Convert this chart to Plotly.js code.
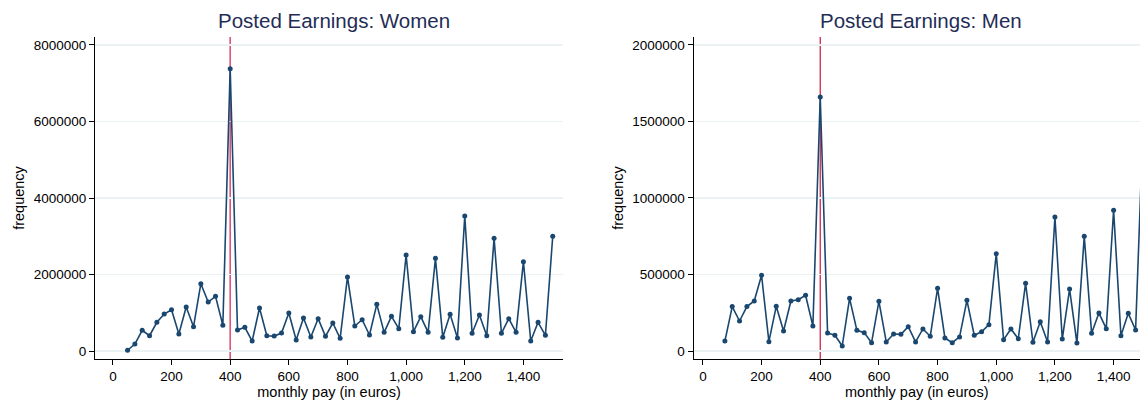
<!DOCTYPE html>
<html>
<head>
<meta charset="utf-8">
<script src="https://cdn.plot.ly/plotly-3.0.1.min.js"></script>
<style>
html,body{margin:0;padding:0;background:#fff;}
#chart{width:1140px;height:403px;}
</style>
</head>
<body>
<div id="chart"></div>
<script>
// ---- data ----
const womenPay = [50,75,100,125,150,175,200,225,250,275,300,325,350,375,400,425,450,475,500,525,550,575,600,625,650,675,700,725,750,775,800,825,850,875,900,925,950,975,1000,1025,1050,1075,1100,1125,1150,1175,1200,1225,1250,1275,1300,1325,1350,1375,1400,1425,1450,1475,1500];
const womenFreq = [20000,183000,541000,400000,750000,967000,1080000,444000,1150000,635000,1760000,1281000,1430000,672000,7380000,549000,620000,261000,1124000,400000,390000,470000,993000,288000,863000,366000,845000,383000,732000,331000,1935000,654000,819000,418000,1220000,488000,907000,584000,2510000,505000,897000,488000,2423000,358000,959000,340000,3530000,463000,941000,400000,2946000,463000,845000,488000,2335000,261000,750000,410000,3000000];

const menPay = [75,100,125,150,175,200,225,250,275,300,325,350,375,400,425,450,475,500,525,550,575,600,625,650,675,700,725,750,775,800,825,850,875,900,925,950,975,1000,1025,1050,1075,1100,1125,1150,1175,1200,1225,1250,1275,1300,1325,1350,1375,1400,1425,1450,1475,1500];
const menFreq = [65000,290000,196000,290000,327000,495000,61000,292000,131000,327000,335000,364000,163000,1660000,118000,103000,33000,344000,135000,120000,54000,325000,59000,111000,109000,159000,59000,144000,96000,410000,85000,54000,92000,331000,103000,126000,172000,636000,74000,144000,80000,442000,57000,191000,59000,876000,78000,405000,52000,750000,116000,248000,146000,920000,100000,246000,137000,1450000];

const xTicks = [0,200,400,600,800,1000,1200,1400];
const xTickText = ['0','200','400','600','800','1,000','1,200','1,400'];
const womenYTicks = [0,2000000,4000000,6000000,8000000];
const menYTicks = [0,500000,1000000,1500000,2000000];
const minimumWage = 400;

const titles = ['Posted Earnings: Women','Posted Earnings: Men'];
const xTitle = 'monthly pay (in euros)';
const yTitle = 'frequency';

// ---- style ----
const W = 1140, H = 403;
const FONT = 'Liberation Sans, Arial, Helvetica, sans-serif';
const navy = '#1a476f';
const yDom = [1 - 359/H, 1 - 37/H];

function xaxis(domain, range) {
  return {
    domain: domain, range: range, tickvals: xTicks, ticktext: xTickText,
    ticks: 'outside', ticklen: 5, tickcolor: '#000', tickwidth: 1,
    showline: true, linecolor: '#000', linewidth: 1,
    showgrid: false, zeroline: false,
    tickfont: {family: FONT, size: 13.5, color: '#000'},
    title: {text: xTitle, font: {family: FONT, size: 14.5, color: '#000'}, standoff: 2},
    fixedrange: true
  };
}
function yaxis(domain, range, ticks) {
  return {
    domain: domain, range: range, tickvals: ticks, tickformat: 'd',
    ticks: 'outside', ticklen: 5, tickcolor: '#000', tickwidth: 1,
    showline: true, linecolor: '#000', linewidth: 1,
    showgrid: true, gridcolor: '#eaf2f3', gridwidth: 1.5, zeroline: false,
    tickfont: {family: FONT, size: 13.5, color: '#000'},
    title: {text: yTitle, font: {family: FONT, size: 14.5, color: '#000'}, standoff: 5},
    fixedrange: true
  };
}

const traces = [
  {x: womenPay, y: womenFreq, xaxis: 'x', yaxis: 'y', type: 'scatter', mode: 'lines+markers',
   line: {color: navy, width: 1.6}, marker: {color: navy, size: 5}, showlegend: false},
  {x: menPay, y: menFreq, xaxis: 'x2', yaxis: 'y2', type: 'scatter', mode: 'lines+markers',
   line: {color: navy, width: 1.6}, marker: {color: navy, size: 5}, showlegend: false}
];

const layout = {
  width: W, height: H,
  margin: {l: 0, r: 0, t: 0, b: 0},
  paper_bgcolor: '#fff', plot_bgcolor: '#fff',
  showlegend: false,
  xaxis: xaxis([95/W, 563/W], [-61, 1535]),
  yaxis: yaxis(yDom, [-209000, 8209000], womenYTicks),
  xaxis2: Object.assign(xaxis([693.5/W, 1], [-32, 1490]), {anchor: 'y2'}),
  yaxis2: Object.assign(yaxis(yDom, [-52300, 2052000], menYTicks), {anchor: 'x2'}),
  shapes: [
    {type: 'line', xref: 'x', yref: 'y domain', x0: minimumWage, x1: minimumWage, y0: 0, y1: 1,
     line: {color: '#dc4770', width: 1.5}, layer: 'below'},
    {type: 'line', xref: 'x2', yref: 'y2 domain', x0: minimumWage, x1: minimumWage, y0: 0, y1: 1,
     line: {color: '#d2103c', width: 1.2}, layer: 'below'}
  ],
  annotations: [
    {text: titles[0], xref: 'paper', yref: 'paper', x: 334/W, y: 1 - 20/H, xanchor: 'center', yanchor: 'middle',
     showarrow: false, font: {family: FONT, size: 20.5, color: '#1f2d56'}},
    {text: titles[1], xref: 'paper', yref: 'paper', x: 921/W, y: 1 - 20/H, xanchor: 'center', yanchor: 'middle',
     showarrow: false, font: {family: FONT, size: 20.5, color: '#1f2d56'}}
  ]
};

Plotly.newPlot('chart', traces, layout, {displayModeBar: false, staticPlot: true});
</script>
</body>
</html>
